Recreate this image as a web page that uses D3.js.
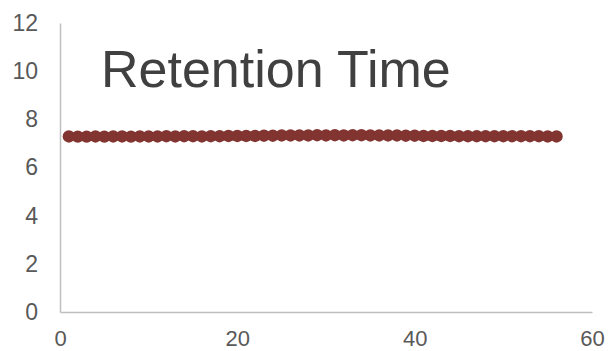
<!DOCTYPE html>
<html>
<head>
<meta charset="utf-8">
<script src="https://cdn.jsdelivr.net/npm/d3@7/dist/d3.min.js"></script>
<style>
  html, body { margin: 0; padding: 0; background: #fff; }
  svg { display: block; font-family: "Liberation Sans", Arial, sans-serif; }
</style>
</head>
<body>
<svg id="chart" width="608" height="351"></svg>
<script>
// Injection number and measured retention time (minutes)
const injections = d3.range(1, 57);
const retentionTimes = [
  7.29, 7.28, 7.28, 7.29, 7.28, 7.29, 7.29, 7.28, 7.29, 7.29,
  7.29, 7.30, 7.29, 7.30, 7.30, 7.29, 7.30, 7.30, 7.31, 7.31,
  7.31, 7.31, 7.32, 7.32, 7.33, 7.33, 7.33, 7.33, 7.34, 7.33,
  7.34, 7.33, 7.34, 7.34, 7.33, 7.33, 7.33, 7.33, 7.32, 7.32,
  7.31, 7.31, 7.31, 7.31, 7.30, 7.30, 7.30, 7.30, 7.30, 7.30,
  7.30, 7.30, 7.30, 7.30, 7.29, 7.29
];
const xTicks = [0, 20, 40, 60];
const yTicks = [0, 2, 4, 6, 8, 10, 12];
const chartTitle = "Retention Time";

const svg = d3.select("#chart");
const x = d3.scaleLinear().domain([0, 60]).range([60, 592]);
const y = d3.scaleLinear().domain([0, 12]).range([312, 23]);

const labelColor = "#595959";
const axisColor = "#bfbfbf";

// Y axis
const yAxis = svg.append("g")
  .attr("transform", `translate(${x(0)},0)`)
  .call(d3.axisLeft(y).tickValues(yTicks).tickSize(0).tickPadding(22));
yAxis.select(".domain").attr("stroke", axisColor).attr("stroke-width", 1.5);
yAxis.selectAll("text").attr("fill", labelColor).style("font-size", "23px")
  .attr("font-family", "'Liberation Sans', Arial, sans-serif");

// X axis: labels sit in the strip between the axis line and the bottom edge
const xAxis = svg.append("g")
  .attr("transform", `translate(0,${y(0)})`)
  .call(d3.axisBottom(x).tickValues(xTicks).tickSize(0));
xAxis.select(".domain").attr("stroke", axisColor).attr("stroke-width", 1.5);
xAxis.selectAll("text")
  .attr("y", 34)
  .attr("dy", null)
  .attr("fill", labelColor).style("font-size", "22px")
  .attr("font-family", "'Liberation Sans', Arial, sans-serif");

// Points
svg.append("g").selectAll("circle")
  .data(injections.map((n, i) => ({ n, v: retentionTimes[i] })))
  .join("circle")
  .attr("cx", d => x(d.n))
  .attr("cy", d => y(d.v))
  .attr("r", 6.2)
  .attr("fill", "#823431");

// Title inside the plot area
svg.append("text")
  .attr("x", 101)
  .attr("y", 87)
  .attr("fill", "#404040")
  .style("font-size", "52px")
  .text(chartTitle);
</script>
</body>
</html>
